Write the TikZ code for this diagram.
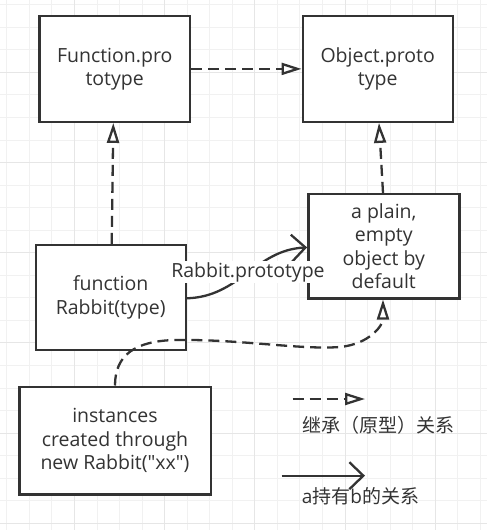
\documentclass[tikz,border=0pt]{standalone}
\usepackage{fontspec}
\setmainfont{Open Sans}[Ligatures=TeXOff]
\newfontfamily\cjk{Noto Sans CJK SC}
\usetikzlibrary{arrows.meta}
\definecolor{ink}{HTML}{333333}
\definecolor{gridminor}{HTML}{F1F1F1}
\definecolor{gridmajor}{HTML}{E6E6E6}
\begin{document}
\begin{tikzpicture}[x=1pt,y=-1pt,
  box/.style={draw=ink, line width=2.4pt, fill=white, align=center, text=ink,
    font=\fontsize{19.5}{23.3}\selectfont, inner sep=0pt},
  inherit/.style={draw=ink, line width=2.3pt, dash pattern=on 11pt off 6pt,
    -{Triangle[fill=white, length=20pt, width=12pt]}},
  holds/.style={draw=ink, line width=2.3pt, -{Straight Barb[length=14pt, width=27pt]}},
  lbl/.style={text=ink, font=\fontsize{19.5}{23.3}\selectfont, inner sep=1pt},
  cjklbl/.style={text=ink, font=\fontsize{19}{23}\selectfont, inner sep=0pt}]
\useasboundingbox (0,0) rectangle (487,530);
\fill[white] (0,0) rectangle (487,530);
% grid
\foreach \k in {0,...,21} {
  \pgfmathsetmacro\xx{6.8+22.55*\k}
  \draw[gridminor, line width=1pt] (\xx,0) -- (\xx,530);
}
\foreach \k in {0,...,23} {
  \pgfmathsetmacro\yy{4.7+22.55*\k}
  \draw[gridminor, line width=1pt] (0,\yy) -- (487,\yy);
}
\foreach \k in {3,7,11,15,19} {
  \pgfmathsetmacro\xx{6.8+22.55*\k}
  \draw[gridmajor, line width=1pt] (\xx,0) -- (\xx,530);
}
\foreach \k in {3,7,11,15,19,23} {
  \pgfmathsetmacro\yy{4.7+22.55*\k}
  \draw[gridmajor, line width=1pt] (0,\yy) -- (487,\yy);
}
% boxes
\node[box, minimum width=150.7pt, minimum height=105.7pt] (func) at (114.7,68.9) {Function.pro\\totype};
\node[box, minimum width=150pt, minimum height=105.7pt] (obj) at (377.7,68.9) {Object.proto\\type};
\node[box, minimum width=151pt, minimum height=104.3pt] (plain) at (383.8,246.2) {a plain,\\empty\\object by\\default};
\node[box, minimum width=150pt, minimum height=105pt] (rabbit) at (110.7,297.5) {function\\Rabbit(type)};
\node[box, minimum width=191.4pt, minimum height=107.6pt] (inst) at (115,440.5) {instances\\created through\\new Rabbit("xx")};
% connectors
\draw[inherit] (func.east) -- (obj.west);
\draw[inherit] ([xshift=1pt]rabbit.north) -- ([xshift=-1.4pt]func.south);
\draw[inherit] ([xshift=-0.8pt]plain.north) -- ([xshift=1.3pt]obj.south);
\coordinate (c1) at (175,340);
\coordinate (c2) at (340,347);
\draw[inherit] (inst.north) .. controls (115,355) and (135,341) .. (c1)
  .. controls (240,339) and (300,350) .. (c2)
  .. controls (370,344) and ([xshift=-0.8pt]plain.south |- 0,325) .. ([xshift=-0.8pt]plain.south);
\draw[holds] ([yshift=-0.8pt]rabbit.east) .. controls (240,296.7) and (255,250) .. ([yshift=-1.2pt]plain.west);
\node[lbl, fill=white] (rp) at (248,272) {Rabbit.prototype};
% legend
\coordinate (l1a) at (292.7,399);
\coordinate (l1b) at (365,399);
\coordinate (l2a) at (281.7,475.7);
\coordinate (l2b) at (365,475.7);
\draw[inherit] (l1a) -- (l1b);
\draw[holds] (l2a) -- (l2b);
\node[cjklbl] (leg1) at (378.3,425) {\cjk 继承（原型）关系};
\node[cjklbl] (leg2) at (360.5,496) {a{\cjk 持有}b{\cjk 的关系}};
\end{tikzpicture}
\end{document}
